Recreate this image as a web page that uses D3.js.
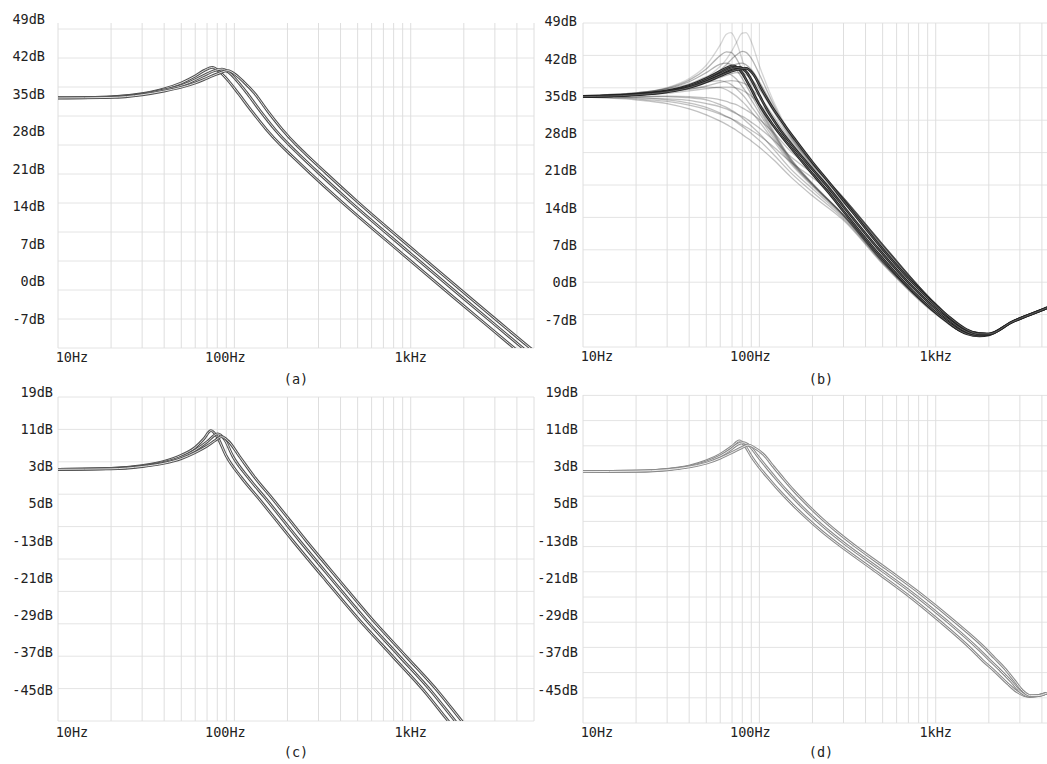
<!DOCTYPE html>
<html>
<head>
<meta charset="utf-8">
<script src="https://cdn.jsdelivr.net/npm/d3@7"></script>
<style>
    body { margin: 0; background: #fff; }
    svg { display: block; }
    text { font-family: "DejaVu Sans Mono", monospace; font-size: 13.5px; fill: #222; }
</style>
</head>
<body>
<svg id="vis" width="1047" height="764"></svg>
<script>
/**
 * Data: [frequency Hz, level dB]
 */
var FREQ_TICKS = [10, 100, 1000];
var FREQ_LABELS = ["10Hz", "100Hz", "1kHz"];
var GRID_FREQS = [10, 20, 30, 40, 50, 60, 70, 80, 90,
    100, 200, 300, 400, 500, 600, 700, 800, 900,
    1000, 2000, 3000, 4000, 5000];

var DB_TICKS_AB = [49, 42, 35, 28, 21, 14, 7, 0, -7];
var DB_LABELS_AB = ["49dB", "42dB", "35dB", "28dB", "21dB", "14dB", "7dB", "0dB", "-7dB"];
var DB_TICKS_CD = [19, 11, 3, -5, -13, -21, -29, -37, -45];
var DB_LABELS_CD = ["19dB", "11dB", "3dB", "5dB", "-13dB", "-21dB", "-29dB", "-37dB", "-45dB"];

// panel (a)
var A_CURVE_1 = [[10,34.3],[20,34.5],[30,35.1],[40,36.0],[50,37.1],[60,38.4],[68,39.5],[75,40.0],[83,39.1],[92,37.6],[105,35.2],[125,31.9],[152,28.4],[183,25.5],[210,23.6],[268,20.3],[402,15.0],[893,5.2],[1786,-3.2],[3571,-11.5],[4821,-15.1],[5400,-16.5]];
var A_CURVE_2 = [[10,34.3],[20,34.5],[30,35.0],[40,35.8],[50,36.6],[60,37.7],[70,38.8],[77,39.4],[85,39.7],[93,39.1],[103,37.6],[118,35.2],[140,31.9],[170,28.4],[205,25.5],[235,23.6],[300,20.3],[450,15.0],[1000,5.2],[2000,-3.2],[4000,-11.5],[5400,-15.1]];
var A_CURVE_3 = [[10,34.3],[20,34.4],[30,34.9],[40,35.6],[50,36.3],[60,37.1],[70,38.0],[80,38.8],[92,39.4],[102,38.6],[113,37.3],[130,35.2],[154,31.9],[187,28.4],[225,25.5],[258,23.6],[330,20.3],[495,15.0],[1100,5.2],[2200,-3.2],[4400,-11.5],[5400,-13.9]];

// panel (b), dark curves
var B_CURVE_1 = [[10,34.9],[20,35.35],[30,36.0],[40,37.0],[50,38.3],[60,39.7],[66,40.4],[71,40.7],[78,39.8],[87,37.2],[100,33.4],[120,29.5],[150,25.4],[200,20.4],[250,16.7],[300,13.4],[480,5.2],[740,-1.6],[1150,-7.2],[1500,-9.6],[1770,-10.0],[2000,-9.8],[2700,-7.4],[4250,-4.75],[5000,-3.7]];
var B_CURVE_2 = [[10,34.9],[20,35.3],[30,35.9],[40,36.8],[50,38.0],[60,39.2],[70,40.2],[77,40.4],[85,39.4],[95,36.6],[110,32.6],[130,28.9],[150,26.2],[200,21.3],[250,17.6],[300,14.3],[480,6.1],[740,-0.8],[1150,-6.6],[1500,-9.2],[1770,-9.8],[2000,-9.7],[2700,-7.4],[4250,-4.75],[5000,-3.7]];
var B_CURVE_3 = [[10,34.9],[20,35.25],[30,35.8],[40,36.6],[50,37.7],[60,38.8],[70,39.7],[78,40.1],[84,40.2],[92,39.2],[103,36.3],[120,32.6],[140,29.4],[160,26.8],[200,22.6],[250,18.7],[300,15.4],[480,7.0],[740,0.0],[1150,-6.0],[1500,-8.8],[1770,-9.6],[2000,-9.6],[2700,-7.4],[4250,-4.75],[5000,-3.7]];

// panel (b), faint curves: levels at FAINT_FREQS
var FAINT_FREQS = [10, 20, 30, 40, 50, 60, 65, 69, 74, 80, 84, 90, 100, 120, 150, 200, 300, 500, 1000, 1500, 2000];
var FAINT_69HZ = [
    [35.1,35.6,36.6,38.3,40.8,44.6,46.6,46.9,45.2,41.8,39.8,37.1,33.6,28.6,23.4,18.6,12.7,4.0,-5.6,-9.5,-9.8],
    [35.1,35.6,36.5,38.0,40.1,42.6,43.3,43.2,42.1,39.9,38.4,36.2,33.1,28.3,23.3,18.6,12.7,4.0,-5.6,-9.5,-9.8],
    [35.1,35.6,36.4,37.7,39.4,41.0,41.2,40.9,40.0,38.3,37.1,35.3,32.5,28.0,23.1,18.5,12.7,4.0,-5.6,-9.5,-9.8],
    [35.1,35.5,36.3,37.3,38.6,39.4,39.4,39.0,38.2,36.8,35.8,34.3,31.8,27.7,22.9,18.4,12.6,4.0,-5.6,-9.5,-9.8],
    [35.0,35.4,36.0,36.8,37.6,37.9,37.6,37.2,36.4,35.3,34.5,33.1,31.0,27.2,22.7,18.3,12.6,4.0,-5.6,-9.5,-9.8],
    [35.0,35.3,35.8,36.3,36.7,36.6,36.2,35.7,35.0,34.0,33.3,32.1,30.2,26.7,22.4,18.1,12.5,3.9,-5.6,-9.5,-9.8],
    [34.9,35.0,34.9,34.7,34.3,33.4,32.9,32.4,31.8,30.9,30.3,29.4,28.0,25.1,21.4,17.6,12.3,3.8,-5.7,-9.5,-9.8],
    [34.8,34.7,34.3,33.7,32.9,31.8,31.2,30.8,30.1,29.3,28.8,28.0,26.7,24.1,20.7,17.0,12.0,3.7,-5.8,-9.5,-9.8],
    [34.8,34.3,33.6,32.6,31.5,30.3,29.7,29.2,28.6,27.8,27.3,26.6,25.4,23.1,19.9,16.3,11.7,3.5,-5.9,-9.5,-9.8]
];
var FAINT_84HZ = [
    [35.0,35.4,36.0,37.0,38.5,40.6,41.9,43.2,45.0,46.8,46.9,45.2,40.7,34.1,27.9,22.4,15.9,7.2,-4.0,-8.9,-9.6],
    [35.0,35.4,36.0,36.9,38.2,39.9,40.9,41.8,42.7,43.4,43.2,42.1,39.1,33.5,27.7,22.4,15.9,7.2,-4.0,-8.9,-9.6],
    [35.0,35.3,35.9,36.7,37.9,39.3,40.0,40.5,41.0,41.2,40.9,40.0,37.7,32.9,27.4,22.3,15.9,7.2,-4.0,-8.9,-9.6],
    [35.0,35.3,35.8,36.5,37.5,38.5,38.9,39.2,39.4,39.3,39.0,38.2,36.3,32.2,27.1,22.2,15.8,7.2,-4.0,-8.9,-9.6],
    [35.0,35.3,35.7,36.3,36.9,37.6,37.8,37.9,37.8,37.5,37.2,36.4,34.9,31.3,26.7,22.0,15.8,7.1,-4.0,-8.9,-9.6],
    [35.0,35.2,35.5,36.0,36.4,36.7,36.7,36.7,36.5,36.1,35.7,35.0,33.6,30.5,26.2,21.8,15.7,7.1,-4.0,-8.9,-9.6],
    [34.9,34.9,35.0,34.9,34.7,34.3,34.0,33.7,33.4,32.8,32.4,31.8,30.6,28.2,24.7,21.2,15.5,7.0,-4.0,-8.9,-9.6],
    [34.9,34.7,34.5,34.2,33.6,33.0,32.6,32.2,31.7,31.2,30.8,30.1,29.0,26.8,23.7,20.5,15.2,6.9,-4.1,-8.9,-9.6],
    [34.8,34.5,34.0,33.3,32.5,31.6,31.1,30.8,30.3,29.6,29.2,28.6,27.6,25.5,22.7,19.7,14.9,6.7,-4.2,-8.9,-9.6]
];

// panel (c)
var C_CURVE_1 = [[10,2.4],[20,2.6],[30,3.2],[40,4.1],[50,5.4],[60,7.1],[67,8.9],[73.7,10.7],[80.4,9.2],[89.6,5.4],[109.7,0.6],[137,-3.8],[215,-13.0],[329,-21.4],[512,-30.0],[795,-37.9],[1216,-45.6],[1581,-51.0],[2285,-58.5]];
var C_CURVE_2 = [[10,2.4],[20,2.6],[30,3.1],[40,3.9],[50,5.0],[60,6.5],[70,8.3],[80.6,10.0],[88,8.8],[98,5.2],[120,0.6],[150,-3.8],[235,-13.0],[360,-21.4],[560,-30.0],[870,-37.9],[1330,-45.6],[1730,-51.0],[2500,-58.5]];
var C_CURVE_3 = [[10,2.4],[20,2.5],[30,3.0],[40,3.7],[50,4.7],[60,6.0],[70,7.4],[78,8.6],[84.5,9.4],[92.2,8.5],[106.8,5.2],[130.8,0.6],[163.5,-3.8],[256,-13.0],[392,-21.4],[610,-30.0],[948,-37.9],[1450,-45.6],[1886,-51.0],[2725,-58.5]];

// panel (d)
var D_CURVE_1 = [[10,1.9],[20,2.0],[30,2.4],[40,3.1],[50,4.2],[60,5.6],[70,7.3],[76.9,8.5],[83,7.4],[90,5.2],[99,3.0],[113.6,0.3],[129,-2.1],[154.5,-5.2],[182,-7.8],[227,-11.0],[282,-13.8],[436,-19.0],[682,-24.4],[1036,-30.0],[1609,-36.4],[1850,-38.7],[2150,-40.9],[2550,-43.6],[2900,-45.4],[3400,-46.4],[3800,-46.2],[4250,-45.7],[5000,-44.8]];
var D_CURVE_2 = [[10,1.9],[20,2.0],[30,2.35],[40,3.0],[50,3.95],[60,5.25],[68,6.5],[75.6,7.8],[81.1,8.1],[88,7.4],[96.6,5.5],[109,3.0],[125,0.3],[142,-2.1],[170,-5.2],[200,-7.8],[250,-11.0],[310,-13.8],[480,-19.0],[750,-24.4],[1140,-30.0],[1770,-36.4],[2000,-38.4],[2300,-40.6],[2700,-43.3],[3000,-45.3],[3400,-46.3],[3800,-46.2],[4250,-45.7],[5000,-44.8]];
var D_CURVE_3 = [[10,1.9],[20,2.0],[30,2.3],[40,2.9],[50,3.7],[60,4.8],[70,6.0],[80,7.1],[86.6,7.6],[94,7.0],[106,5.5],[120,3.0],[137.5,0.3],[156,-2.1],[187,-5.2],[220,-7.8],[275,-11.0],[341,-13.8],[528,-19.0],[825,-24.4],[1254,-30.0],[1947,-36.4],[2150,-38.1],[2450,-40.3],[2800,-43.0],[3100,-45.1],[3450,-46.2],[3800,-46.2],[4250,-45.7],[5000,-44.8]];

/**
 * Layout
 */
var _vis = d3.select("#vis");
var FAINT_OPACITY = [0.2, 0.36, 0.38, 0.33, 0.3, 0.28, 0.3, 0.3, 0.3];

var panels = [
    { name: "a", x0: 58, x1: 534, top: 23, gridTop: 29, bottom: 348, steps: 11,
      yDom: [49, -7], yRng: [19.3, 319], ticks: DB_TICKS_AB, labels: DB_LABELS_AB,
      labelRight: 45, xLabelY: 361.5, capX: 296, capY: 384 },
    { name: "b", x0: 583, x1: 1059, top: 23, gridTop: 23, bottom: 347, steps: 10,
      yDom: [49, -7], yRng: [21.5, 320], ticks: DB_TICKS_AB, labels: DB_LABELS_AB,
      labelRight: 577, xLabelY: 360.5, capX: 821, capY: 384 },
    { name: "c", x0: 58, x1: 534, top: 397, gridTop: 397, bottom: 721, steps: 10,
      yDom: [19, -45], yRng: [392, 690], ticks: DB_TICKS_CD, labels: DB_LABELS_CD,
      labelRight: 53, xLabelY: 736.5, capX: 296, capY: 757 },
    { name: "d", x0: 583, x1: 1059, top: 395, gridTop: 395.4, bottom: 723, steps: 13,
      yDom: [19, -45], yRng: [392, 690], ticks: DB_TICKS_CD, labels: DB_LABELS_CD,
      labelRight: 578, xLabelY: 736.5, capX: 821, capY: 757 }
];
var LABEL_DX = [14, -9, 0]; // x tick labels sit a little off their grid line

panels.forEach(function (p) {
    p.x = d3.scaleLog().domain([10, 5000]).range([p.x0, p.x1]);
    p.y = d3.scaleLinear().domain(p.yDom).range(p.yRng);
    p.g = _vis.append("g").attr("class", "panel-" + p.name);

    // grid
    var gridY = d3.scaleLinear().domain([0, p.steps]).range([p.bottom, p.gridTop]);
    p.g.append("g").selectAll("line.h")
        .data(d3.range(p.steps + 1))
        .enter().append("line")
        .attr("x1", p.x0).attr("x2", Math.min(p.x1, 1047))
        .attr("y1", function (d) { return gridY(d); })
        .attr("y2", function (d) { return gridY(d); })
        .attr("stroke", "#e4e4e4").attr("stroke-width", 1);
    p.g.append("g").selectAll("line.v")
        .data(GRID_FREQS)
        .enter().append("line")
        .attr("x1", function (d) { return p.x(d); })
        .attr("x2", function (d) { return p.x(d); })
        .attr("y1", p.top).attr("y2", p.bottom)
        .attr("stroke", "#dedede").attr("stroke-width", 1);

    // clip
    _vis.append("clipPath").attr("id", "clip-" + p.name)
        .append("rect")
        .attr("x", p.x0).attr("y", p.top)
        .attr("width", p.x1 - p.x0).attr("height", p.bottom - p.top);
    p.plot = p.g.append("g").attr("clip-path", "url(#clip-" + p.name + ")");

    p.line = d3.line()
        .x(function (d) { return p.x(d[0]); })
        .y(function (d) { return p.y(d[1]); })
        .curve(d3.curveMonotoneX);

    // y labels
    p.g.append("g").selectAll("text")
        .data(p.ticks)
        .enter().append("text")
        .attr("x", p.labelRight)
        .attr("y", function (d) { return p.y(d); })
        .attr("dy", "0.35em")
        .attr("text-anchor", "end")
        .text(function (d, i) { return p.labels[i]; });

    // x labels
    p.g.append("g").selectAll("text")
        .data(FREQ_TICKS)
        .enter().append("text")
        .attr("x", function (d, i) { return p.x(d) + LABEL_DX[i]; })
        .attr("y", p.xLabelY)
        .attr("text-anchor", "middle")
        .text(function (d, i) { return FREQ_LABELS[i]; });

    p.g.append("text")
        .attr("x", p.capX).attr("y", p.capY)
        .attr("text-anchor", "middle")
        .text("(" + p.name + ")");
});

/**
 * Draws a curve as a "tube": dark outline with a lighter core
 */
function drawTube(p, data, outer, inner, wOuter, wInner) {
    p.plot.append("path").datum(data)
        .attr("d", p.line).attr("fill", "none")
        .attr("stroke", outer).attr("stroke-width", wOuter);
    p.plot.append("path").datum(data)
        .attr("d", p.line).attr("fill", "none")
        .attr("stroke", inner).attr("stroke-width", wInner);
}

// (a)
[A_CURVE_1, A_CURVE_2, A_CURVE_3].forEach(function (c) {
    drawTube(panels[0], c, "#505050", "#e2e2e2", 2.8, 1);
});

// (b) faint family first, then dark ones
FAINT_69HZ.concat(FAINT_84HZ).forEach(function (row, k) {
    var pts = FAINT_FREQS.map(function (f, i) { return [f, row[i]]; });
    panels[1].plot.append("path").datum(pts)
        .attr("d", panels[1].line).attr("fill", "none")
        .attr("stroke", "#333")
        .attr("stroke-opacity", FAINT_OPACITY[k % 9])
        .attr("stroke-width", 1.3);
});
[B_CURVE_1, B_CURVE_2, B_CURVE_3].forEach(function (c) {
    drawTube(panels[1], c, "#222", "#7a7a7a", 2.6, 0.7);
});

// (c)
[C_CURVE_1, C_CURVE_2, C_CURVE_3].forEach(function (c) {
    drawTube(panels[2], c, "#505050", "#e2e2e2", 2.8, 1);
});

// (d)
[D_CURVE_1, D_CURVE_2, D_CURVE_3].forEach(function (c) {
    drawTube(panels[3], c, "#8a8a8a", "#efefef", 2.8, 1);
});
</script>
</body>
</html>
